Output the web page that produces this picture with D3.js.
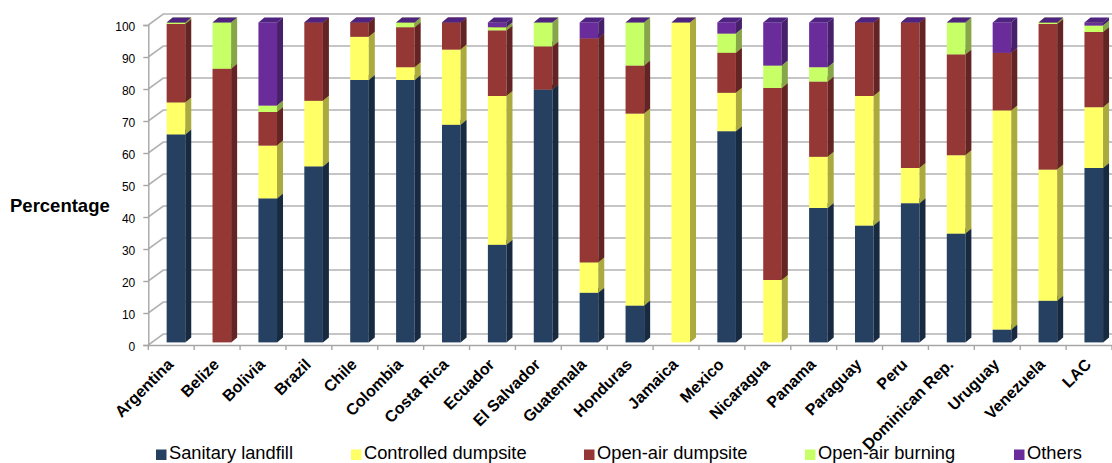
<!DOCTYPE html>
<html>
<head>
<meta charset="utf-8">
<script src="https://cdn.jsdelivr.net/npm/d3@7"></script>
<style>
  html, body { margin: 0; padding: 0; background: #fff; overflow: hidden; }
  svg { display: block; font-family: "Liberation Sans", Arial, sans-serif; }
</style>
</head>
<body>
<svg id="chart" width="1112" height="463"></svg>
<script>
const countries = ["Argentina","Belize","Bolivia","Brazil","Chile","Colombia","Costa Rica","Ecuador","El Salvador","Guatemala","Honduras","Jamaica","Mexico","Nicaragua","Panama","Paraguay","Peru","Dominican Rep.","Uruguay","Venezuela","LAC"];
const seriesNames = ["Sanitary landfill","Controlled dumpsite","Open-air dumpsite","Open-air burning","Others"];
const sanitaryLandfill   = [65,0,45,55,82,82,68,30.5,79,15.5,11.5,0,66,0,42,36.5,43.5,34,4,13,54.5];
const controlledDumpsite = [10,0,16.5,20.5,13.5,4,23.5,46.5,0,9.5,60,100,12,19.5,16,40.5,11,24.5,68.5,41,19];
const openAirDumpsite    = [24.5,85.5,10.5,24.5,4.5,12.5,8.5,20.5,13.5,70,15,0,12.5,60,23.5,23,45.5,31.5,18,45.5,23.5];
const openAirBurning     = [0.5,14.5,2,0,0,1.5,0,1,7.5,0,13.5,0,6,7,4.5,0,0,10,0,0.5,2];
const others             = [0,0,26,0,0,0,0,1.5,0,5,0,0,3.5,13.5,14,0,0,0,9.5,0,1];
const yTicks = [0,10,20,30,40,50,60,70,80,90,100];

const fronts = ["#254061","#ffff66","#953735","#c6ff66","#6a2c9a"];
const sides  = ["#182a40","#aaaa3e","#632423","#86a648","#47206b"];
const tops   = ["#1f3550","#d0d050","#7a2c2b","#a8d456","#4f2380"];

const svg = d3.select("#chart");
const layers = d3.stack().keys(d3.range(5)).value((row, k) => row[k])(
  countries.map((_, i) => [sanitaryLandfill[i], controlledDumpsite[i], openAirDumpsite[i], openAirBurning[i], others[i]])
);

const x = d3.scaleBand().domain(countries).range([148.3, 1112]).paddingInner(0).paddingOuter(0);
const y = d3.scaleLinear().domain([0, 100]).range([345, 25]);

// Perspective offsets: the wall recedes from the axis plane, each bar sits inside it
const wall = { dx: 15, dy: -11 };
const barOffset = { dx: 4.7, dy: -2.6 };
const barWidth = 18.6;
const barDepth = { dx: 6, dy: -5 };

// Back wall, side wall and floor
const grid = svg.append("g").attr("fill", "none").attr("stroke", "#b3b3b3").attr("stroke-width", 1.6);
yTicks.forEach(t => {
  grid.append("path").attr("d", d3.line()([
    [x.range()[0], y(t)],
    [x.range()[0] + wall.dx, y(t) + wall.dy],
    [x.range()[1] + wall.dx, y(t) + wall.dy]
  ]));
});

// Axes
const axisY = svg.append("g").attr("transform", `translate(${x.range()[0]},0)`)
  .call(d3.axisLeft(y).tickValues(yTicks).tickSize(5).tickPadding(8));
const axisX = svg.append("g").attr("transform", `translate(0,${y(0)})`)
  .call(d3.axisBottom(x).tickSize(0).tickFormat(""));
axisY.selectAll("path, line").attr("stroke", "#a6a6a6").attr("stroke-width", 1.4);
axisY.selectAll("text").attr("font-size", 12).attr("fill", "#000").attr("font-family", "Liberation Sans")
  .attr("dy", "0.45em");
axisX.select("path").attr("stroke", "#a6a6a6").attr("stroke-width", 1.4);
axisX.selectAll("line").remove();

// Tick marks fall on the category boundaries
svg.append("g").selectAll("line").data(countries.concat(["end"])).join("line")
  .attr("x1", (d, i) => x.range()[0] + i * x.bandwidth())
  .attr("x2", (d, i) => x.range()[0] + i * x.bandwidth())
  .attr("y1", y(0)).attr("y2", y(0) + 5)
  .attr("stroke", "#a6a6a6").attr("stroke-width", 1.4);

// Stacked bars, drawn bottom to top so that each top face covers the segment below
const bars = svg.append("g");
countries.forEach((name, i) => {
  const left = x(name) + barOffset.dx + (x.bandwidth() - barWidth) / 2;
  layers.forEach((layer, k) => {
    const [v0, v1] = layer[i];
    const yBottom = y(v0) + barOffset.dy;
    const yTop = y(v1) + barOffset.dy;
    const g = bars.append("g");
    if (v1 > v0) {
      g.append("rect").attr("x", left).attr("y", yTop)
        .attr("width", barWidth).attr("height", yBottom - yTop).attr("fill", fronts[k]);
      g.append("path").attr("fill", sides[k]).attr("d", d3.line()([
        [left + barWidth, yTop],
        [left + barWidth + barDepth.dx, yTop + barDepth.dy],
        [left + barWidth + barDepth.dx, yBottom + barDepth.dy],
        [left + barWidth, yBottom]
      ]) + "Z");
    }
    // A zero-height top series still caps the column
    if (v1 > v0 || k === layers.length - 1) {
      g.append("path").attr("fill", tops[k]).attr("d", d3.line()([
        [left, yTop],
        [left + barDepth.dx, yTop + barDepth.dy],
        [left + barWidth + barDepth.dx, yTop + barDepth.dy],
        [left + barWidth, yTop]
      ]) + "Z");
    }
  });
});

// Slanted country names
svg.append("g").selectAll("text").data(countries).join("text")
  .attr("transform", d => `translate(${x(d) + x.bandwidth() / 2 + 3},${y(0) + 20.5}) rotate(-45)`)
  .attr("text-anchor", "end")
  .attr("font-size", 16).attr("font-weight", 700).attr("fill", "#000")
  .text(d => d);

// Value axis title
svg.append("text").attr("x", 10).attr("y", 211.5)
  .attr("font-size", 18.5).attr("font-weight", 700).attr("fill", "#000").text("Percentage");

// Legend
const legendX = [156, 351, 584, 805, 1014];
const legend = svg.append("g").selectAll("g").data(seriesNames).join("g")
  .attr("transform", (d, i) => `translate(${legendX[i]},0)`);
legend.append("rect").attr("x", 0).attr("y", 449.5).attr("width", 10.5).attr("height", 10.5)
  .attr("fill", (d, i) => fronts[i]);
legend.append("text").attr("x", 13).attr("y", 459)
  .attr("font-size", 18.3).attr("fill", "#000").text(d => d);
</script>
</body>
</html>
